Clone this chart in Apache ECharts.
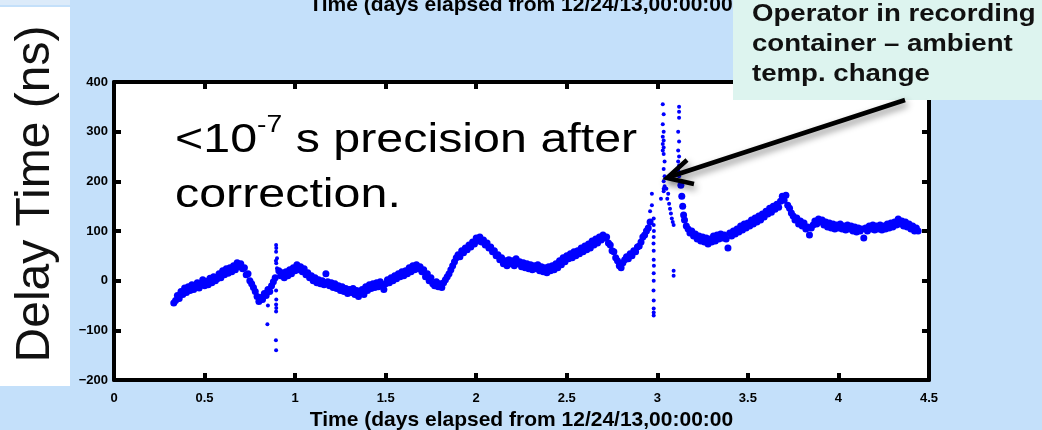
<!DOCTYPE html>
<html>
<head>
<meta charset="utf-8">
<script src="https://cdn.jsdelivr.net/npm/echarts@6/dist/echarts.min.js"></script>
<style>
  html, body { margin: 0; padding: 0; background: #c4e0fa; }
  #delay { width: 1042px; height: 430px; }
</style>
</head>
<body>
<div id="delay"></div>
<script>
// delay time readings, [days elapsed, ns]
var firstStretch = [
    [0.33, -45], [0.34, -40], [0.35, -30], [0.36, -36], [0.37, -22], [0.38, -28], [0.39, -15], [0.40, -24],
    [0.41, -12], [0.42, -20], [0.43, -8], [0.44, -18], [0.45, -11], [0.46, -4], [0.47, -15], [0.48, -6],
    [0.49, 2], [0.50, -10], [0.51, -1], [0.52, -8], [0.53, 5], [0.54, -4], [0.55, 8], [0.56, 0],
    [0.57, 4], [0.58, 14], [0.59, 6], [0.60, 20], [0.61, 12], [0.62, 24], [0.63, 15], [0.64, 26],
    [0.65, 18], [0.66, 30], [0.67, 22], [0.68, 36], [0.69, 28], [0.70, 34], [0.71, 24], [0.72, 26],
    [0.73, 12], [0.74, 14], [0.75, 0], [0.76, -6], [0.77, -14], [0.78, -22], [0.79, -32], [0.80, -42],
    [0.81, -34], [0.82, -38], [0.83, -26], [0.84, -30], [0.85, -18], [0.86, -22], [0.87, -10], [0.88, -2],
    [0.89, 6]
];
var secondStretch = [
    [0.91, 20], [0.92, 10], [0.93, 16], [0.94, 6], [0.95, 18], [0.96, 10], [0.97, 22], [0.98, 14],
    [0.99, 26], [1.00, 20], [1.01, 32], [1.02, 22], [1.03, 28], [1.04, 18], [1.05, 24], [1.06, 12],
    [1.07, 16], [1.08, 6], [1.09, 10], [1.10, 0], [1.11, 6], [1.12, -4], [1.13, 2], [1.14, -6],
    [1.15, 0], [1.16, -8], [1.17, 14], [1.18, -2], [1.19, -10], [1.20, -4], [1.21, -14], [1.22, -6],
    [1.23, -16], [1.24, -10], [1.25, -20], [1.26, -12], [1.27, -22], [1.28, -16], [1.29, -26], [1.30, -18],
    [1.31, -24], [1.32, -16], [1.33, -28], [1.34, -20], [1.35, -32], [1.36, -22], [1.37, -18], [1.38, -28],
    [1.39, -12], [1.40, -20], [1.41, -8], [1.42, -16], [1.43, -6], [1.44, -14], [1.45, -4], [1.46, -12],
    [1.47, -2], [1.48, -10], [1.49, -18], [1.50, -6], [1.51, 2], [1.52, -4], [1.53, 6], [1.54, 0],
    [1.55, 10], [1.56, 4], [1.57, 14], [1.58, 8], [1.59, 18], [1.60, 10], [1.61, 20], [1.62, 14],
    [1.63, 26], [1.64, 18], [1.65, 30], [1.66, 22], [1.67, 32], [1.68, 24], [1.69, 28], [1.70, 18],
    [1.71, 22], [1.72, 8], [1.73, 14], [1.74, 0], [1.75, 6], [1.76, -6], [1.77, -10], [1.78, -2],
    [1.79, -12], [1.80, -6], [1.81, -14], [1.82, -4], [1.83, 2], [1.84, 8], [1.85, 14], [1.86, 22],
    [1.87, 30], [1.88, 38], [1.89, 46], [1.90, 52], [1.91, 48], [1.92, 60], [1.93, 56], [1.94, 66],
    [1.95, 62], [1.96, 72], [1.97, 68], [1.98, 78], [1.99, 74], [2.00, 86], [2.01, 80], [2.02, 88],
    [2.03, 78], [2.04, 82], [2.05, 72], [2.06, 76], [2.07, 66], [2.08, 68], [2.09, 58], [2.10, 60],
    [2.11, 50], [2.12, 52], [2.13, 42], [2.14, 46], [2.15, 34], [2.16, 40], [2.17, 30], [2.18, 42],
    [2.19, 34], [2.20, 40], [2.21, 30], [2.22, 44], [2.23, 34], [2.24, 38], [2.25, 28], [2.26, 36],
    [2.27, 26], [2.28, 34], [2.29, 24], [2.30, 32], [2.31, 22], [2.32, 30], [2.33, 24], [2.34, 32],
    [2.35, 20], [2.36, 28], [2.37, 18], [2.38, 26], [2.39, 16], [2.40, 28], [2.41, 20], [2.42, 30],
    [2.43, 22], [2.44, 34], [2.45, 26], [2.46, 40], [2.47, 32], [2.48, 46], [2.49, 38], [2.50, 50],
    [2.51, 44], [2.52, 54], [2.53, 46], [2.54, 58], [2.55, 50], [2.56, 60], [2.57, 54], [2.58, 66],
    [2.59, 58], [2.60, 70], [2.61, 62], [2.62, 74], [2.63, 66], [2.64, 80], [2.65, 72], [2.66, 84],
    [2.67, 76], [2.68, 88], [2.69, 82], [2.70, 92], [2.71, 86], [2.72, 88], [2.73, 76], [2.74, 72],
    [2.75, 60], [2.76, 58], [2.77, 46], [2.78, 40], [2.79, 30], [2.80, 26], [2.81, 36], [2.82, 42],
    [2.83, 48], [2.84, 44], [2.85, 54], [2.86, 50], [2.87, 60], [2.88, 58], [2.89, 68], [2.90, 70],
    [2.91, 78], [2.92, 88], [2.93, 92], [2.94, 100], [2.95, 106], [2.96, 118]
];
var thirdStretch = [
    [3.13, 192], [3.135, 170], [3.14, 150], [3.145, 132], [3.15, 122], [3.16, 110], [3.17, 104], [3.18, 96],
    [3.19, 100], [3.20, 90], [3.21, 94], [3.22, 84], [3.23, 90], [3.24, 80], [3.25, 88], [3.26, 78],
    [3.27, 86], [3.28, 74], [3.29, 84], [3.30, 78], [3.31, 90], [3.32, 80], [3.33, 92], [3.34, 84],
    [3.35, 94], [3.36, 86], [3.37, 92], [3.38, 84], [3.39, 66], [3.40, 96], [3.41, 90], [3.42, 100],
    [3.43, 94], [3.44, 104], [3.45, 98], [3.46, 110], [3.47, 102], [3.48, 114], [3.49, 106], [3.50, 116],
    [3.51, 110], [3.52, 122], [3.53, 114], [3.54, 126], [3.55, 118], [3.56, 130], [3.57, 122], [3.58, 134],
    [3.59, 128], [3.60, 140], [3.61, 134], [3.62, 146], [3.63, 138], [3.64, 150], [3.65, 144], [3.66, 154],
    [3.67, 148], [3.68, 160], [3.69, 170], [3.70, 162], [3.71, 172], [3.72, 152], [3.73, 146], [3.74, 136],
    [3.75, 130], [3.76, 122], [3.77, 126], [3.78, 114], [3.79, 120], [3.80, 110], [3.81, 116], [3.82, 104],
    [3.83, 108], [3.84, 92], [3.85, 106], [3.86, 112], [3.87, 120], [3.88, 114], [3.89, 124], [3.90, 118],
    [3.91, 122], [3.92, 112], [3.93, 118], [3.94, 108], [3.95, 116], [3.96, 106], [3.97, 114], [3.98, 104],
    [3.99, 112], [4.00, 106], [4.01, 114], [4.02, 104], [4.03, 110], [4.04, 102], [4.05, 112], [4.06, 104],
    [4.07, 110], [4.08, 100], [4.09, 108], [4.10, 98], [4.11, 106], [4.12, 100], [4.13, 104], [4.14, 86],
    [4.15, 106], [4.16, 100], [4.17, 110], [4.18, 104], [4.19, 112], [4.20, 102], [4.21, 110], [4.22, 104],
    [4.23, 112], [4.24, 102], [4.25, 110], [4.26, 104], [4.27, 114], [4.28, 106], [4.29, 116], [4.30, 108],
    [4.31, 118], [4.32, 112], [4.33, 124], [4.34, 114], [4.35, 120], [4.36, 110], [4.37, 118], [4.38, 108],
    [4.39, 114], [4.40, 104], [4.41, 110], [4.42, 100], [4.43, 106], [4.44, 100]
];
// glitch near 0.9 days
var firstGlitch = [
    [0.895, 72], [0.896, 66], [0.895, 58], [0.894, 40], [0.896, 35], [0.90, 45], [0.90, 25],
    [0.895, -20], [0.896, -38], [0.895, -48], [0.896, -55], [0.895, -62], [0.894, -120], [0.895, -140],
    [0.85, -50], [0.847, -88]
];
// operator in the container, ~3 days
var secondGlitch = [
    [2.98, 125], [2.98, 112], [2.981, 100], [2.98, 88], [2.979, 75], [2.98, 60], [2.98, 42], [2.981, 30],
    [2.98, 15], [2.98, 0], [2.979, -20], [2.98, -40], [2.98, -56], [2.98, -64], [2.98, -70],
    [2.97, 175], [2.97, 152], [2.96, 140], [3.02, 165], [3.035, 185],
    [3.03, 355], [3.035, 335], [3.03, 315], [3.035, 300], [3.03, 290], [3.035, 282], [3.03, 275], [3.035, 268],
    [3.03, 262], [3.035, 255], [3.04, 240], [3.035, 225], [3.04, 210], [3.035, 200], [3.04, 190], [3.035, 180],
    [3.12, 350], [3.12, 340], [3.12, 328], [3.115, 300], [3.12, 280], [3.115, 262], [3.12, 250], [3.115, 240],
    [3.12, 232], [3.115, 222], [3.12, 210],
    [3.05, 185], [3.06, 175], [3.055, 165], [3.065, 155], [3.07, 145], [3.075, 135], [3.08, 125], [3.085, 118],
    [3.09, 112], [3.09, 20], [3.09, 10]
];
var xTicks = { min: 0, max: 4.5, step: 0.5 };
var yTicks = { min: -200, max: 400, step: 100 };
var axisTitle = 'Time (days elapsed from 12/24/13,00:00:00';

var fontName = "'Liberation Sans', Arial, sans-serif";
var chart = echarts.init(document.getElementById('delay'));

function frameAxis(extra) {
    return Object.assign({
        type: 'value',
        axisLine: { onZero: false, lineStyle: { color: '#000', width: 4 } },
        axisTick: { inside: true, length: 7, lineStyle: { color: '#000', width: 4 } },
        splitLine: { show: false },
        axisLabel: { show: false }
    }, extra);
}
var tickLabel = { show: true, color: '#000', fontWeight: 'bold', fontSize: 13, fontFamily: fontName };
var shadow = { shadowBlur: 7, shadowColor: 'rgba(0,0,0,0.45)', shadowOffsetX: 2, shadowOffsetY: 4 };

var option = {
    animation: false,
    backgroundColor: '#c4e0fa',
    grid: {
        left: 114, right: 113, top: 82, bottom: 50, containLabel: false, outerBoundsMode: 'none',
        show: true, backgroundColor: '#fff', borderWidth: 0
    },
    xAxis: [
        frameAxis({
            min: xTicks.min, max: xTicks.max, interval: xTicks.step, position: 'bottom',
            axisLabel: Object.assign({ margin: 12 }, tickLabel),
            name: axisTitle, nameLocation: 'middle', nameGap: 28,
            nameTextStyle: { color: '#000', fontWeight: 'bold', fontSize: 21, fontFamily: fontName }
        }),
        frameAxis({ min: xTicks.min, max: xTicks.max, interval: xTicks.step, position: 'top' })
    ],
    yAxis: [
        frameAxis({
            min: yTicks.min, max: yTicks.max, interval: yTicks.step, position: 'left',
            axisLabel: Object.assign({ margin: 6, formatter: function (v) { return String(v).replace('-', '\u2212'); } }, tickLabel)
        }),
        frameAxis({ min: yTicks.min, max: yTicks.max, interval: yTicks.step, position: 'right' })
    ],
    series: [
        { type: 'scatter', data: firstStretch.concat(secondStretch, thirdStretch), symbolSize: 7, itemStyle: { color: '#0000ff', opacity: 1 } },
        { type: 'scatter', data: firstGlitch.concat(secondGlitch), symbolSize: 4, itemStyle: { color: '#0000ff', opacity: 1 } }
    ],
    graphic: [
        { type: 'rect', shape: { x: 0, y: 7, width: 70, height: 379 }, style: { fill: '#fff' }, z: -1 },
        { type: 'rect', shape: { x: 0, y: 0, width: 70, height: 5 }, style: { fill: '#dcebfa' }, z: -1 },
        {
            type: 'text', x: 36, y: 194, rotation: Math.PI / 2,
            style: { text: 'Delay Time (ns)', fill: '#111', font: '48px ' + fontName, align: 'center', verticalAlign: 'middle' }
        },
        {
            type: 'text', x: 521, y: 16,
            style: { text: axisTitle, fill: '#000', font: 'bold 21px ' + fontName, align: 'center', verticalAlign: 'bottom' }
        },
        {
            type: 'text', x: 175, y: 113, z: 10, scaleX: 1.18,
            style: {
                text: '{n|<10}{s|-7}{n| s precision after}\n{n|correction.}',
                fill: '#000',
                rich: {
                    n: { fontSize: 41, fontFamily: fontName, lineHeight: 55, fill: '#000' },
                    s: { fontSize: 24, fontFamily: fontName, verticalAlign: 'top', lineHeight: 40, fill: '#000' }
                }
            }
        },
        { type: 'rect', shape: { x: 733, y: 0, width: 309, height: 100 }, style: { fill: '#ddf4ef' }, z: 20 },
        {
            type: 'text', x: 752, y: -1, z: 21, scaleX: 1.15,
            style: {
                text: 'Operator in recording\ncontainer \u2013 ambient\ntemp. change',
                fill: '#111', font: 'bold 24px ' + fontName, lineHeight: 30
            }
        },
        {
            type: 'line', z: 22,
            shape: { x1: 905, y1: 100, x2: 669, y2: 177 },
            style: Object.assign({ stroke: '#000', lineWidth: 4.5 }, shadow)
        },
        {
            type: 'polyline', z: 22,
            shape: { points: [[687, 160], [667, 178], [694, 184]] },
            style: Object.assign({ stroke: '#000', lineWidth: 4.5, fill: null, lineJoin: 'miter' }, shadow)
        }
    ]
};
chart.setOption(option);
</script>
</body>
</html>
